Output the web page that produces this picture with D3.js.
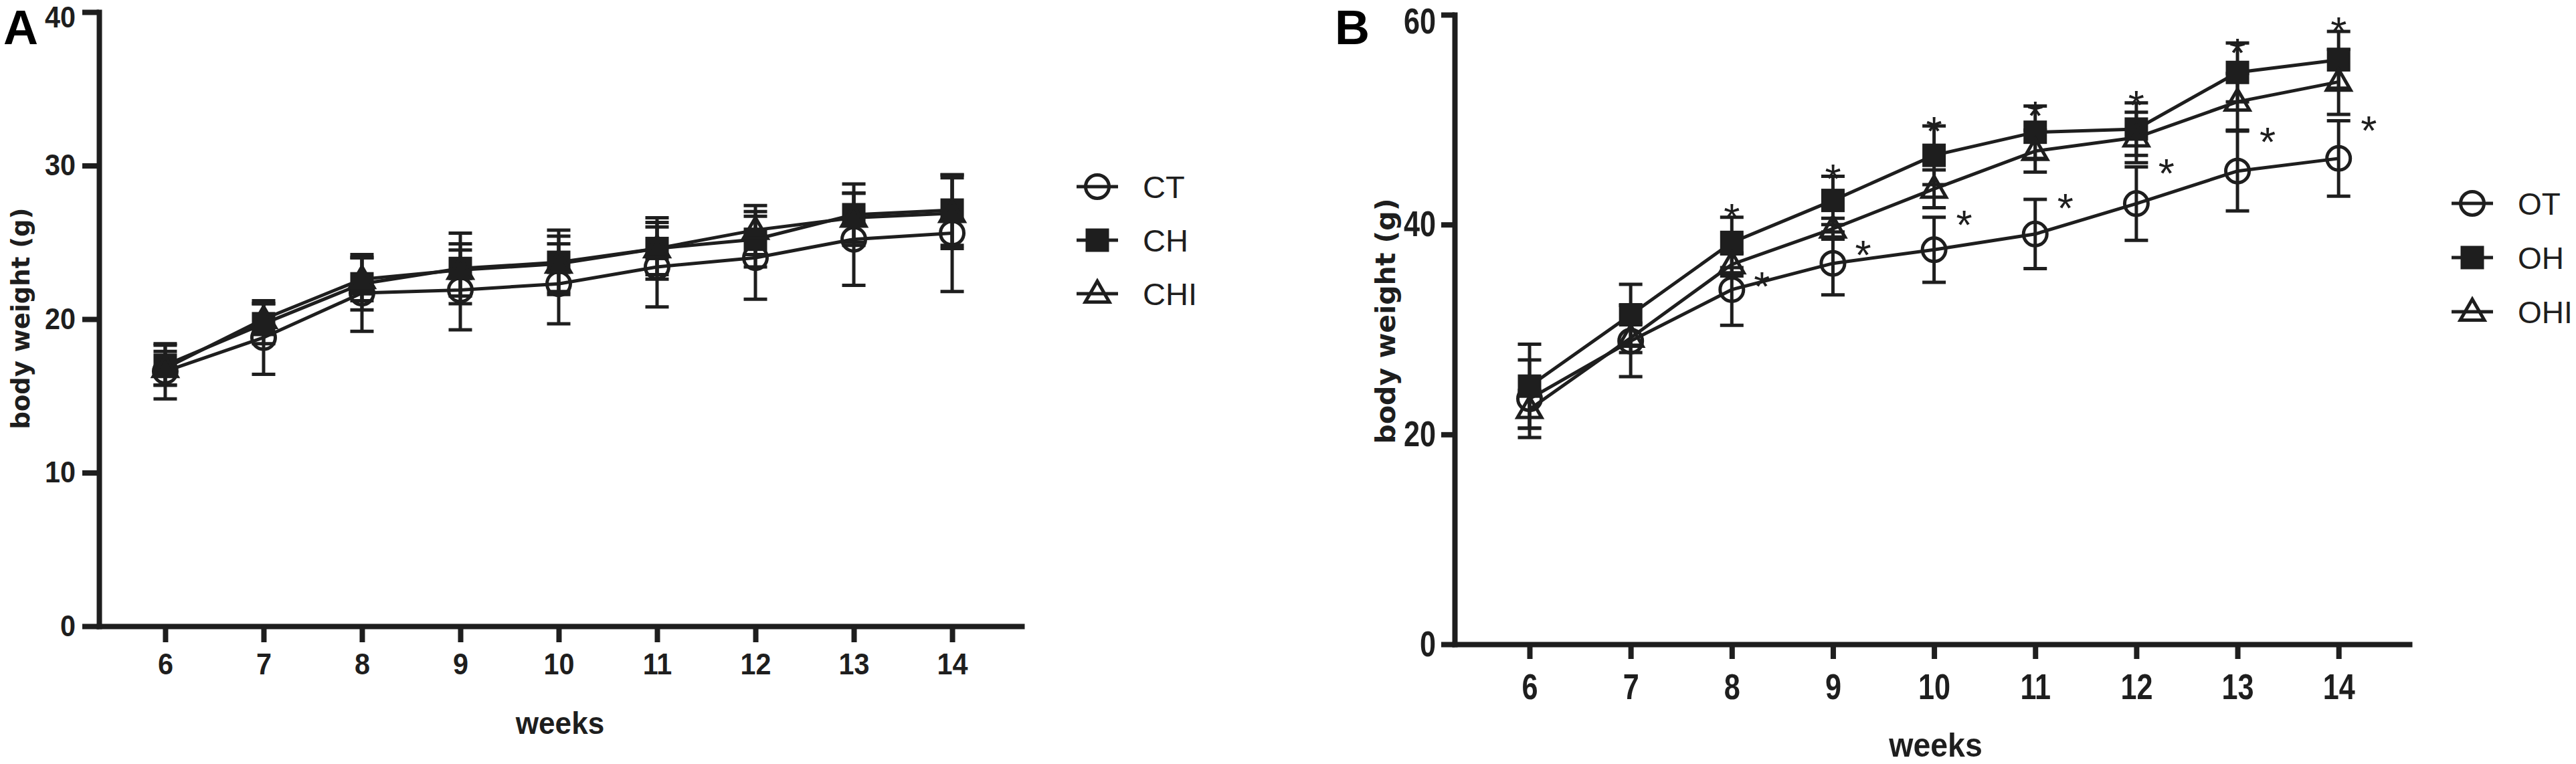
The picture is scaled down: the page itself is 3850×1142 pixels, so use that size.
<!DOCTYPE html>
<html>
<head>
<meta charset="utf-8">
<script src="https://cdn.jsdelivr.net/npm/d3@7"></script>
<style>
  html, body { margin: 0; padding: 0; background: #fff; }
  svg { display: block; }
</style>
</head>
<body>
<svg id="fig" width="3850" height="1142"></svg>
<script>
// weeks on the x axis (both panels)
const weeks = [6, 7, 8, 9, 10, 11, 12, 13, 14];

// panel A: body weight mean / SD
const ctMean  = [16.6, 18.8, 21.7, 21.9, 22.3, 23.4, 24.0, 25.2, 25.6];
const ctSd    = [1.8, 2.4, 2.5, 2.6, 2.6, 2.6, 2.7, 3.0, 3.8];
const chMean  = [17.0, 19.7, 22.3, 23.3, 23.7, 24.6, 25.2, 26.8, 27.1];
const chSd    = [1.3, 1.3, 1.7, 2.3, 2.1, 2.0, 1.8, 2.0, 2.3];
const chiMean = [16.8, 20.0, 22.6, 23.2, 23.6, 24.6, 25.8, 26.6, 26.9];
const chiSd   = [1.1, 1.0, 1.4, 1.7, 1.8, 1.7, 1.6, 1.6, 2.3];

// panel B
const otMean  = [23.4, 28.9, 33.8, 36.3, 37.6, 39.1, 42.0, 45.1, 46.3];
const otSd    = [3.7, 3.4, 3.4, 3.0, 3.1, 3.3, 3.5, 3.8, 3.6];
const ohMean  = [24.6, 31.4, 38.3, 42.3, 46.6, 48.8, 49.1, 54.5, 55.7];
const ohSd    = [4.0, 2.9, 2.4, 2.3, 2.8, 2.5, 2.5, 2.8, 2.7];
const ohiMean = [22.4, 29.2, 36.2, 39.6, 43.4, 47.0, 48.3, 51.7, 53.6];
const ohiSd   = [1.8, 1.4, 1.1, 1.0, 1.8, 2.0, 2.4, 2.7, 3.1];

// significance marks in B (week, value where the * sits)
const starWeeks  = [8, 9, 10, 11, 12, 13, 14];
const starAbove  = [41.5, 45.3, 49.8, 51.3, 52.3, 57.3, 59.3];
const starRight  = [35.0, 38.0, 40.9, 42.5, 45.8, 48.8, 49.9];

const yTicksA = [0, 10, 20, 30, 40];
const yTicksB = [0, 20, 40, 60];

const INK = "#1e1e1e";
const SANS = "'Liberation Sans', Arial, sans-serif";
const svg = d3.select("#fig");

function toPoints(mean, sd) {
  return weeks.map((w, i) => ({ week: w, mean: mean[i], sd: sd[i] }));
}

function drawMarker(g, shape, cx, cy) {
  if (shape === "circle") {
    g.append("circle").attr("cx", cx).attr("cy", cy).attr("r", 17.5)
      .attr("fill", "none").attr("stroke", INK).attr("stroke-width", 5);
  } else if (shape === "square") {
    g.append("rect").attr("x", cx - 17.5).attr("y", cy - 17.5)
      .attr("width", 35).attr("height", 35).attr("fill", INK);
  } else {
    const tri = d3.symbol().type(d3.symbolTriangle).size(560);
    g.append("path").attr("d", tri()).attr("transform", `translate(${cx},${cy + 2})`)
      .attr("fill", "none").attr("stroke", INK).attr("stroke-width", 5)
      .attr("stroke-linejoin", "miter");
  }
}

// squeeze a text horizontally around its own x position
function squeeze(sel, sx) {
  if (sx === 1) return;
  sel.each(function () {
    const t = d3.select(this);
    const x0 = +t.attr("x") || 0;
    t.attr("x", 0).attr("transform", `translate(${x0},0) scale(${sx},1)`);
  });
}

function drawPanel(cfg) {
  const g = svg.append("g");
  const x = d3.scaleLinear().domain(cfg.xDomain).range(cfg.xRange);
  const y = d3.scaleLinear().domain(cfg.yDomain).range(cfg.yRange);

  // axes
  const xAxis = g.append("g")
    .attr("transform", `translate(0,${cfg.yRange[0]})`)
    .call(d3.axisBottom(x).tickValues(weeks).tickSize(cfg.xTick).tickSizeOuter(0)
      .tickPadding(cfg.xPad).tickFormat(d3.format("d")));
  const yAxis = g.append("g")
    .attr("transform", `translate(${cfg.xRange[0]},0)`)
    .call(d3.axisLeft(y).tickValues(cfg.yTicks).tickSize(cfg.yTick).tickSizeOuter(0)
      .tickPadding(cfg.yPad));

  [xAxis, yAxis].forEach((ax) => {
    ax.select(".domain").attr("stroke", INK).attr("stroke-width", 8)
      .attr("stroke-linecap", "square");
    ax.selectAll(".tick line").attr("stroke", INK).attr("stroke-width", 8);
    const txt = ax.selectAll(".tick text")
      .attr("fill", INK)
      .style("font-family", SANS)
      .style("font-weight", "bold")
      .style("font-size", cfg.tickFont + "px");
    squeeze(txt, cfg.tickSqueeze);
  });

  // the top y label sits at the very edge of the page: keep it inside
  yAxis.selectAll(".tick text")
    .filter((d) => d === cfg.yDomain[1])
    .attr("dy", "0.5em");

  // axis titles
  g.append("text")
    .attr("transform", `translate(${cfg.yTitle[0]},${cfg.yTitle[1]}) rotate(-90)`)
    .attr("text-anchor", "middle").attr("dominant-baseline", "central")
    .attr("fill", INK)
    .style("font-family", "'DejaVu Sans', Verdana, sans-serif")
    .style("font-weight", "bold").style("font-size", cfg.yTitleFont + "px")
    .text("body weight (g)");

  const xt = g.append("text")
    .attr("x", cfg.xTitle[0]).attr("y", cfg.xTitle[1])
    .attr("text-anchor", "middle").attr("fill", INK)
    .style("font-family", SANS)
    .style("font-weight", "bold").style("font-size", cfg.xTitleFont + "px")
    .text("weeks");
  squeeze(xt, cfg.xTitleSqueeze);

  g.append("text")
    .attr("x", cfg.letter[0]).attr("y", cfg.letter[1]).attr("fill", "#000")
    .style("font-family", SANS)
    .style("font-weight", "bold").style("font-size", "72px")
    .text(cfg.name);

  const line = d3.line().x((d) => x(d.week)).y((d) => y(d.mean));

  // connecting lines
  cfg.series.forEach((s) => {
    g.append("path").datum(s.points).attr("d", line)
      .attr("fill", "none").attr("stroke", INK).attr("stroke-width", 5);
  });

  // error bars
  cfg.series.forEach((s) => {
    const eb = g.append("g").attr("stroke", INK).attr("stroke-width", 5);
    eb.selectAll("line.stem").data(s.points).join("line").attr("class", "stem")
      .attr("x1", (d) => x(d.week)).attr("x2", (d) => x(d.week))
      .attr("y1", (d) => y(d.mean - d.sd)).attr("y2", (d) => y(d.mean + d.sd));
    ["hi", "lo"].forEach((k) => {
      eb.selectAll("line.cap-" + k).data(s.points).join("line").attr("class", "cap-" + k)
        .attr("x1", (d) => x(d.week) - 17.5).attr("x2", (d) => x(d.week) + 17.5)
        .attr("y1", (d) => y(k === "hi" ? d.mean + d.sd : d.mean - d.sd))
        .attr("y2", (d) => y(k === "hi" ? d.mean + d.sd : d.mean - d.sd));
    });
  });

  // markers
  cfg.series.forEach((s) => {
    const mg = g.append("g");
    s.points.forEach((d) => drawMarker(mg, s.shape, x(d.week), y(d.mean)));
  });

  // legend
  cfg.series.forEach((s, i) => {
    const ly = cfg.legend[1] + i * cfg.legendGap;
    const lx = cfg.legend[0];
    g.append("line").attr("x1", lx - 31).attr("x2", lx + 31)
      .attr("y1", ly).attr("y2", ly).attr("stroke", INK).attr("stroke-width", 5);
    drawMarker(g, s.shape, lx, ly);
    g.append("text").attr("x", lx + 68).attr("y", ly).attr("dy", "0.36em")
      .attr("fill", INK)
      .style("font-family", SANS)
      .style("font-size", cfg.legendFont + "px")
      .text(s.label);
  });

  return { g, x, y };
}

drawPanel({
  name: "A",
  xDomain: [5.327, 14.707], xRange: [148, 1527],
  yDomain: [0, 40], yRange: [936, 18], yTicks: yTicksA,
  xTick: 24, xPad: 17, yTick: 25, yPad: 10, tickFont: 44, tickSqueeze: 0.94,
  yTitle: [31, 476], yTitleFont: 37,
  xTitle: [837, 1097], xTitleFont: 46, xTitleSqueeze: 0.96,
  letter: [5, 66],
  legend: [1640, 279], legendGap: 80, legendFont: 47,
  series: [
    { label: "CT", shape: "circle", points: toPoints(ctMean, ctSd) },
    { label: "CH", shape: "square", points: toPoints(chMean, chSd) },
    { label: "CHI", shape: "triangle", points: toPoints(chiMean, chiSd) }
  ]
});

const panelB = drawPanel({
  name: "B",
  xDomain: [5.259, 14.70], xRange: [2174, 3601],
  yDomain: [0, 60], yRange: [963, 22], yTicks: yTicksB,
  xTick: 22, xPad: 22, yTick: 20, yPad: 8, tickFont: 54, tickSqueeze: 0.8,
  yTitle: [2071, 480], yTitleFont: 41,
  xTitle: [2893, 1131], xTitleFont: 50, xTitleSqueeze: 0.93,
  letter: [1995, 66],
  legend: [3695, 304], legendGap: 81, legendFont: 46,
  series: [
    { label: "OT", shape: "circle", points: toPoints(otMean, otSd) },
    { label: "OH", shape: "square", points: toPoints(ohMean, ohSd) },
    { label: "OHI", shape: "triangle", points: toPoints(ohiMean, ohiSd) }
  ]
});

// asterisks in panel B
const starFs = 62;
const stars = starWeeks.flatMap((w, i) => [
  { week: w, value: starAbove[i], dx: 0 },
  { week: w, value: starRight[i], dx: 45 }
]);
panelB.g.append("g").selectAll("text").data(stars).join("text")
  .attr("x", (d) => panelB.x(d.week) + d.dx)
  .attr("y", (d) => panelB.y(d.value) + starFs * 0.57)
  .attr("text-anchor", "middle").attr("fill", INK)
  .style("font-family", SANS)
  .style("font-size", starFs + "px")
  .text("*");
</script>
</body>
</html>
